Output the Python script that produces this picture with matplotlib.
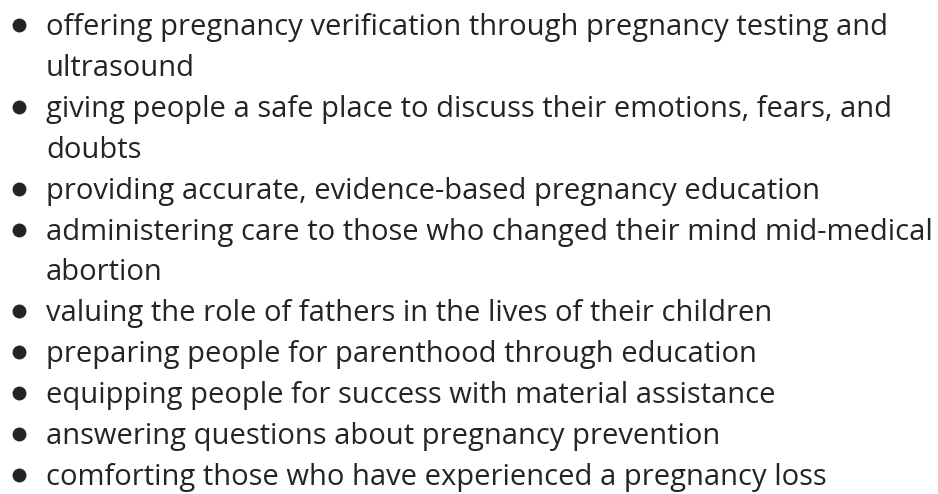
import matplotlib.pyplot as plt

items = [
    ["offering pregnancy verification through pregnancy testing and", "ultrasound"],
    ["giving people a safe place to discuss their emotions, fears, and", "doubts"],
    ["providing accurate, evidence-based pregnancy education"],
    ["administering care to those who changed their mind mid-medical", "abortion"],
    ["valuing the role of fathers in the lives of their children"],
    ["preparing people for parenthood through education"],
    ["equipping people for success with material assistance"],
    ["answering questions about pregnancy prevention"],
    ["comforting those who have experienced a pregnancy loss"],
]

W, H = 938, 494
fig = plt.figure(figsize=(W / 100, H / 100), dpi=100)
ax = fig.add_axes([0, 0, 1, 1])
ax.set_xlim(0, W)
ax.set_ylim(H, 0)
ax.axis('off')

color = '#242424'
base0 = 35
step = 40.9
bullet_x = 19
text_x = 46

row = 0
bx, by = [], []
for lines in items:
    bx.append(bullet_x)
    by.append(base0 + row * step - 10)
    for ln in lines:
        ax.text(text_x, base0 + row * step, ln, fontsize=21, family='Open Sans',
                color=color, va='baseline', ha='left')
        row += 1

ax.plot(bx, by, 'o', color=color, markersize=9)

fig.savefig('out.png', dpi=100)
